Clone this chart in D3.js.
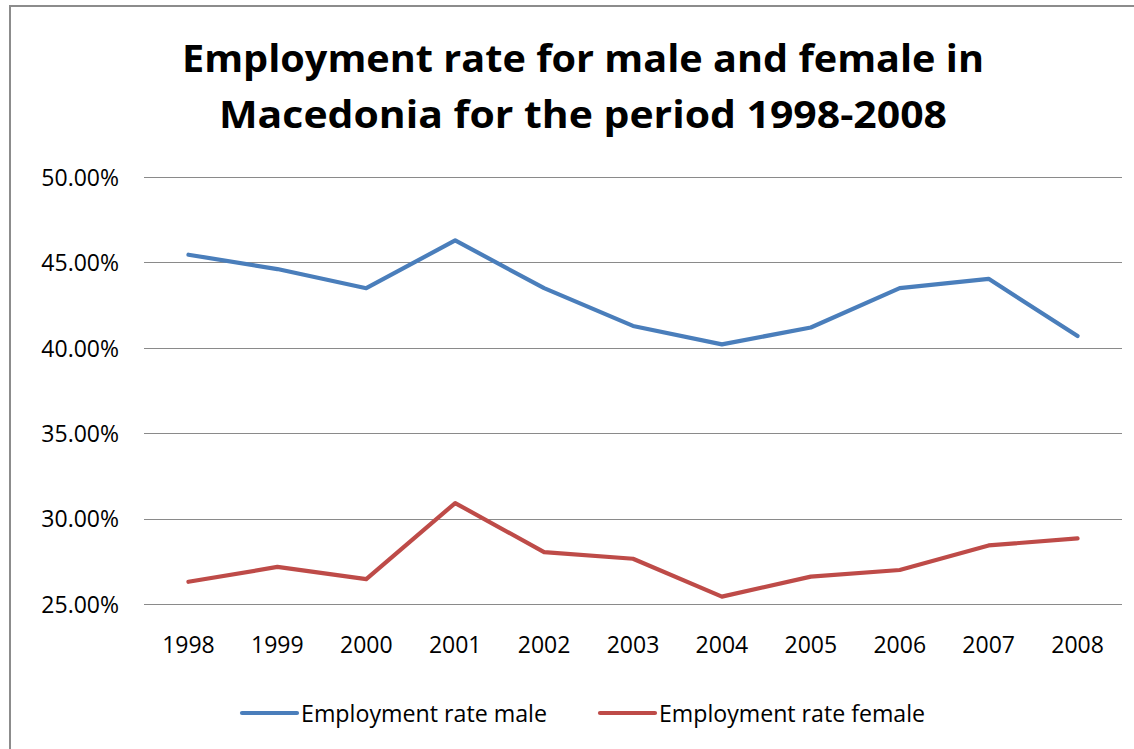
<!DOCTYPE html>
<html>
<head>
<meta charset="utf-8">
<script src="https://cdn.jsdelivr.net/npm/d3@7"></script>
<style>
  html, body { margin: 0; padding: 0; background: #fff; }
  svg { display: block; }
</style>
</head>
<body>
<svg id="chart" width="1134" height="749"></svg>
<script>
// ---- data ----
const years = ["1998","1999","2000","2001","2002","2003","2004","2005","2006","2007","2008"];
const maleRate = [45.45, 44.61, 43.49, 46.29, 43.49, 41.28, 40.20, 41.19, 43.49, 44.04, 40.69];
const femaleRate = [26.30, 27.17, 26.46, 30.91, 28.04, 27.65, 25.43, 26.60, 26.99, 28.43, 28.84];
const yTicks = [25, 30, 35, 40, 45, 50];
const seriesNames = ["Employment rate male", "Employment rate female"];
const titleLines = ["Employment rate for male and female in", "Macedonia for the period 1998-2008"];

const series = [
  { name: seriesNames[0], values: maleRate, color: "#4A7EBB" },
  { name: seriesNames[1], values: femaleRate, color: "#BE4B48" }
];

const svg = d3.select("#chart");
const font = "'Open Sans', 'Liberation Sans', sans-serif";

// chart border (left & top visible)
svg.append("rect")
  .attr("x", 10).attr("y", 6)
  .attr("width", 1200).attr("height", 800)
  .attr("fill", "none").attr("stroke", "#8c8c8c").attr("stroke-width", 2);

// title
const titleY = [72, 128];
const titleW = [802, 728];
titleLines.forEach((t, i) => {
  svg.append("text")
    .attr("x", 583).attr("y", titleY[i])
    .attr("text-anchor", "middle")
    .attr("font-family", font)
    .attr("font-weight", "bold")
    .attr("font-size", 38)
    .attr("textLength", titleW[i])
    .attr("lengthAdjust", "spacingAndGlyphs")
    .attr("fill", "#000")
    .text(t);
});

// scales
const x = d3.scaleBand().domain(years).range([144, 1122]);
const y = d3.scaleLinear().domain([25, 50]).range([604, 177]);

// gridlines
svg.append("g")
  .selectAll("line")
  .data(yTicks)
  .join("line")
  .attr("x1", 144).attr("x2", 1122)
  .attr("y1", d => Math.round(y(d)) + 0.5)
  .attr("y2", d => Math.round(y(d)) + 0.5)
  .attr("stroke", "#8a8a8a").attr("stroke-width", 1.2);

// y axis labels
const yAxis = d3.axisLeft(y).tickValues(yTicks)
  .tickFormat(d => d3.format(".2f")(d) + "%")
  .tickSize(0).tickPadding(0);
const gy = svg.append("g").attr("transform", "translate(119,1)").call(yAxis);
gy.select(".domain").remove();
gy.selectAll("text")
  .attr("font-family", font).attr("font-size", 23).attr("fill", "#000");

// x axis labels
const xAxis = d3.axisBottom(x).tickSize(0).tickPadding(0);
const gx = svg.append("g").attr("transform", "translate(0,637)").call(xAxis);
gx.select(".domain").remove();
gx.selectAll("text")
  .attr("font-family", font).attr("font-size", 23).attr("fill", "#000");

// lines
const line = d3.line()
  .x((d, i) => x(years[i]) + x.bandwidth() / 2)
  .y(d => y(d));

svg.append("g")
  .selectAll("path")
  .data(series)
  .join("path")
  .attr("d", d => line(d.values))
  .attr("fill", "none")
  .attr("stroke", d => d.color)
  .attr("stroke-width", 4.2)
  .attr("stroke-linejoin", "round")
  .attr("stroke-linecap", "round");

// legend
const legendX = [242, 600];
const legendTextW = [246, 266];
const legend = svg.append("g")
  .selectAll("g")
  .data(series)
  .join("g")
  .attr("transform", (d, i) => `translate(${legendX[i]},713)`);
legend.append("line")
  .attr("x1", 0).attr("x2", 55).attr("y1", 0).attr("y2", 0)
  .attr("stroke", d => d.color).attr("stroke-width", 4.2)
  .attr("stroke-linecap", "round");
legend.append("text")
  .attr("x", 59).attr("y", 8.5)
  .attr("font-family", font).attr("font-size", 23).attr("fill", "#000")
  .attr("textLength", (d, i) => legendTextW[i])
  .attr("lengthAdjust", "spacingAndGlyphs")
  .text(d => d.name);
</script>
</body>
</html>
